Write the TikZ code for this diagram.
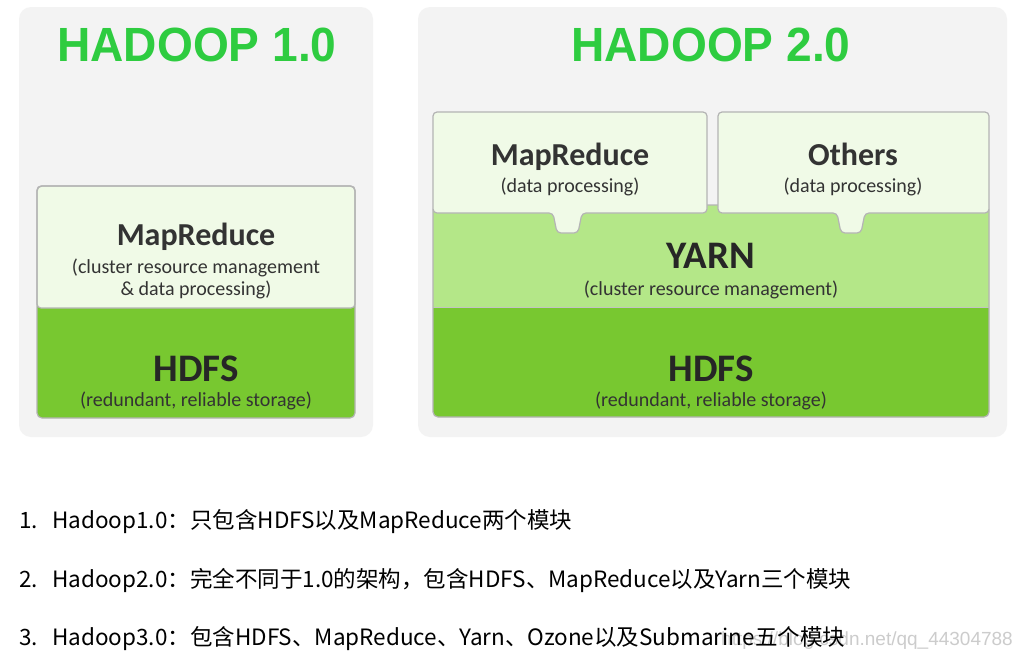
\documentclass[tikz,border=0pt]{standalone}
\usepackage{fontspec}
\setmainfont{Carlito}
\newfontfamily\titlefont{Liberation Sans}
\newfontfamily\cjk{Noto Sans CJK SC}
\usetikzlibrary{positioning}

\definecolor{panelgray}{RGB}{243,243,243}
\definecolor{edgegray}{RGB}{180,180,180}
\definecolor{boxlight}{RGB}{240,250,231}
\definecolor{yarngreen}{RGB}{180,231,136}
\definecolor{hdfsgreen}{RGB}{120,200,48}
\definecolor{titlegreen}{RGB}{46,204,64}
\definecolor{textgray}{RGB}{51,51,51}

\begin{document}
\begin{tikzpicture}[x=1pt,y=-1pt,
    panel/.style={fill=panelgray,rounded corners=12pt},
    upper/.style={draw=edgegray,fill=boxlight,line width=1.2pt,rounded corners=4pt},
    edge/.style={draw=edgegray,line width=1.2pt,rounded corners=5pt},
    sep/.style={draw=edgegray!80,line width=1pt},
    title/.style={anchor=base,text=titlegreen,font=\titlefont\bfseries\fontsize{48}{48}\selectfont},
    head/.style={anchor=base,text=textgray,font=\bfseries\fontsize{32}{32}\selectfont},
    big/.style={anchor=base,text=black!85,font=\bfseries\fontsize{39}{39}\selectfont},
    sub/.style={anchor=base,text=textgray,font=\fontsize{20}{20}\selectfont},
    num/.style={anchor=base west,inner sep=0pt,font=\cjk\fontsize{22.5}{22.5}\selectfont},
    item/.style={anchor=base west,inner sep=0pt,font=\cjk\fontsize{22.5}{22.5}\selectfont},
    wmark/.style={anchor=base east,inner sep=0pt,text=black!20,font=\titlefont\fontsize{19}{19}\selectfont}]

    \fill[white] (0,0) rectangle (1021,654);
    \useasboundingbox (0,0) rectangle (1021,654);

    % Hadoop 1.0
    \fill[panel] (19,7) rectangle (373,437);
    \fill[hdfsgreen,rounded corners=5pt] (37,186) rectangle (355,418);
    \draw[upper] (37,308) -- (37,186) -- (355,186) -- (355,308) -- cycle;
    \draw[edge] (37,186) rectangle (355,418);

    \node[title] (h1) at (197,61) {\scalebox{0.96}[1]{HADOOP 1.0}};
    \node[head] (mr1) at (196,245) {MapReduce};
    \node[sub] (mr1a) at (196,273) {(cluster resource management};
    \node[sub] (mr1b) at (196,295) {\& data processing)};
    \node[big] (hd1) at (196,381) {HDFS};
    \node[sub] (hd1a) at (196,406) {(redundant, reliable storage)};

    % Hadoop 2.0
    \fill[panel] (418,7) rectangle (1007,437);
    \fill[hdfsgreen,rounded corners=5pt] (433,205) rectangle (989,417);
    \fill[yarngreen] (433,205) rectangle (989,307);
    \draw[sep] (433,307) -- (989,307);
    \draw[edge] (433,205) rectangle (989,417);
    \draw[upper] (433,213) -- (433,112) -- (707,112) -- (707,213)
        -- (582,213) -- (578,233) -- (557,233) -- (553,213) -- cycle;
    \draw[upper] (718,213) -- (718,112) -- (989,112) -- (989,213)
        -- (865,213) -- (861,233) -- (841,233) -- (837,213) -- cycle;

    \node[title] (h2) at (711,61) {\scalebox{0.96}[1]{HADOOP 2.0}};
    \node[head] (mr2) at (570,165) {MapReduce};
    \node[sub] (mr2a) at (570,192) {(data processing)};
    \node[head] (ot) at (853,165) {Others};
    \node[sub] (ota) at (853,192) {(data processing)};
    \node[big] (yarn) at (711,268) {YARN};
    \node[sub] (yarna) at (711,295) {(cluster resource management)};
    \node[big] (hd2) at (711,381) {HDFS};
    \node[sub] (hd2a) at (711,406) {(redundant, reliable storage)};

    % notes
    \node[wmark] (wm) at (1013,645) {https://blog.csdn.net/qq\_44304788};
    \node[num] (n1) at (19,528) {1.};
    \node[item] (l1) at (52,528) {Hadoop1.0：只包含HDFS以及MapReduce两个模块};
    \node[num] (n2) at (19,587) {2.};
    \node[item] (l2) at (52,587) {Hadoop2.0：完全不同于1.0的架构，包含HDFS、MapReduce以及Yarn三个模块};
    \node[num] (n3) at (19,645) {3.};
    \node[item] (l3) at (52,645) {Hadoop3.0：包含HDFS、MapReduce、Yarn、Ozone以及Submarine五个模块};
\end{tikzpicture}
\end{document}
